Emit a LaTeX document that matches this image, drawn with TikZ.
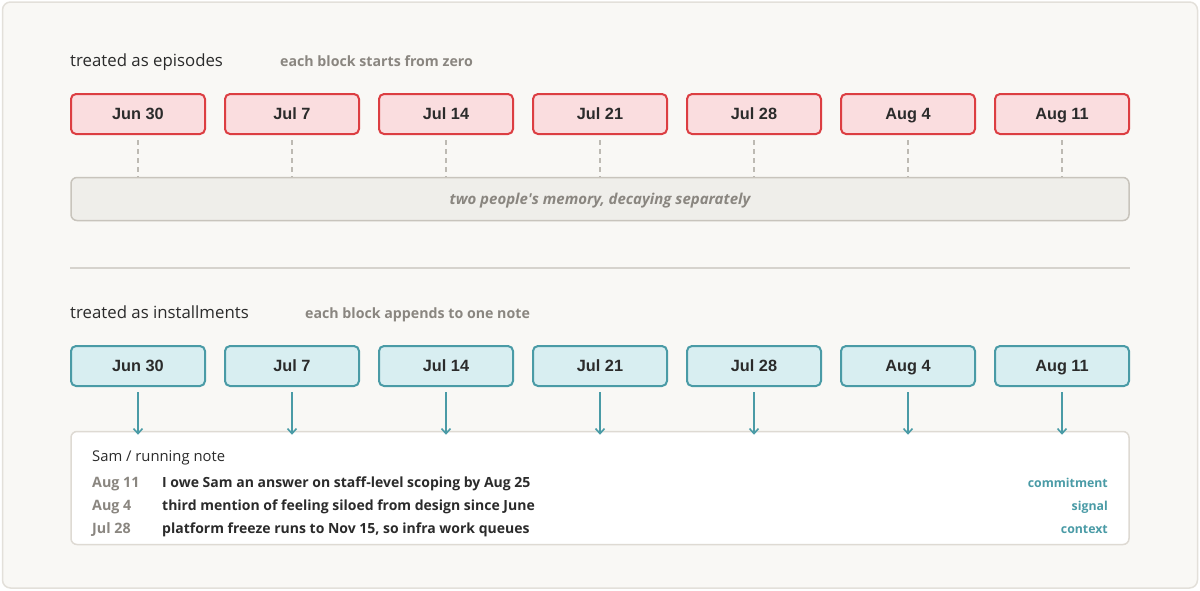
\documentclass[tikz,border=0pt]{standalone}
\usepackage{fontspec}
\setmainfont{Open Sans}
\newfontfamily\datefont{Liberation Sans}
\usetikzlibrary{arrows.meta}
\definecolor{bgc}{HTML}{F9F8F5}
\definecolor{framec}{HTML}{E3E0DA}
\definecolor{redfill}{HTML}{FADDDF}
\definecolor{redline}{HTML}{DC3E42}
\definecolor{tealfill}{HTML}{D8EEF1}
\definecolor{tealline}{HTML}{4A9BA6}
\definecolor{darktext}{HTML}{2B2B2B}
\definecolor{graytext}{HTML}{8A8680}
\definecolor{barfill}{HTML}{EFEEEA}
\definecolor{barline}{HTML}{C8C4BC}
\definecolor{dashc}{HTML}{BDBAB3}
\definecolor{sepc}{HTML}{D6D3CD}
\definecolor{noteline}{HTML}{DEDAD3}
\tikzset{
  datebox/.style={rounded corners=5pt, line width=2pt, minimum width=134pt, minimum height=40pt, inner sep=0pt,
    text height=11.5pt, text depth=0pt,
    font=\datefont\bfseries\fontsize{16.3}{18}\selectfont, text=darktext},
  epbox/.style={datebox, fill=redfill, draw=redline},
  inbox/.style={datebox, fill=tealfill, draw=tealline},
  heading/.style={anchor=base west, inner sep=0pt, font=\fontsize{16.8}{19}\selectfont, text=darktext},
  subhead/.style={anchor=base west, inner sep=0pt, font=\bfseries\fontsize{14.2}{16}\selectfont, text=graytext},
  rowdate/.style={anchor=base west, inner sep=0pt, font=\bfseries\fontsize{14.3}{16}\selectfont, text=graytext},
  rowtext/.style={anchor=base west, inner sep=0pt, font=\bfseries\fontsize{14}{16}\selectfont, text=darktext},
  rowtag/.style={anchor=base east, inner sep=0pt, font=\bfseries\fontsize{12.3}{15}\selectfont, text=tealline},
  tick/.style={draw=dashc, line width=1.2pt, dash pattern=on 5pt off 4pt},
  feed/.style={draw=tealline, line width=1.6pt, -{Straight Barb[length=5pt,width=9pt]}},
}
\begin{document}
\begin{tikzpicture}[x=1pt,y=-1pt]
\useasboundingbox (0,0) rectangle (1200,590);
\node[draw=framec, line width=1.5pt, fill=bgc, rounded corners=8pt, minimum width=1195pt, minimum height=586pt, inner sep=0pt] (frame) at (600,295) {};

% section 1
\node[heading] (h1) at (70,66) {treated as episodes};
\node[subhead] (s1) at (280,66) {each block starts from zero};
\node[draw=barline, line width=1.5pt, fill=barfill, rounded corners=6pt, minimum width=1058pt, minimum height=43pt, inner sep=0pt,
  text height=10.5pt, text depth=0pt,
  font=\bfseries\itshape\fontsize{15}{17}\selectfont, text=graytext] (bar) at (600,199) {two people\textquotesingle s memory, decaying separately};
\foreach \d [count=\i] in {Jun 30, Jul 7, Jul 14, Jul 21, Jul 28, Aug 4, Aug 11}{
  \node[epbox] (e\i) at ({138+154*(\i-1)},114) {\d};
  \coordinate (et\i) at ({138+154*(\i-1)},140);
  \draw[tick] (et\i) -- (et\i |- bar.north);
}

% separator
\coordinate (sepL) at (70,268);
\coordinate (sepR) at (1130,268);
\draw[draw=sepc, line width=1.2pt] (sepL) -- (sepR);

% section 2
\node[heading] (h2) at (70,318) {treated as installments};
\node[subhead] (s2) at (305,318) {each block appends to one note};
\node[draw=noteline, line width=1.5pt, fill=white, rounded corners=6pt, minimum width=1058pt, minimum height=113pt, inner sep=0pt] (note) at (600,488) {};
\foreach \d [count=\i] in {Jun 30, Jul 7, Jul 14, Jul 21, Jul 28, Aug 4, Aug 11}{
  \node[inbox] (b\i) at ({138+154*(\i-1)},366) {\d};
  \coordinate (bt\i) at ({138+154*(\i-1)},392);
  \draw[feed] (bt\i) -- ([yshift=-4pt]bt\i |- note.north);
}

\node[anchor=base west, inner sep=0pt, font=\fontsize{14.8}{17}\selectfont, text=darktext] (nt) at (92,461) {Sam / running note};
\node[rowdate] (d1) at (92,487) {Aug 11};
\node[rowtext] (t1) at (162,487) {I owe Sam an answer on staff-level scoping by Aug 25};
\node[rowtag] (g1) at (1108,487) {commitment};
\node[rowdate] (d2) at (92,510) {Aug 4};
\node[rowtext] (t2) at (162,510) {third mention of feeling siloed from design since June};
\node[rowtag] (g2) at (1108,510) {signal};
\node[rowdate] (d3) at (92,533) {Jul 28};
\node[rowtext] (t3) at (162,533) {platform freeze runs to Nov 15, so infra work queues};
\node[rowtag] (g3) at (1108,533) {context};
\end{tikzpicture}
\end{document}
